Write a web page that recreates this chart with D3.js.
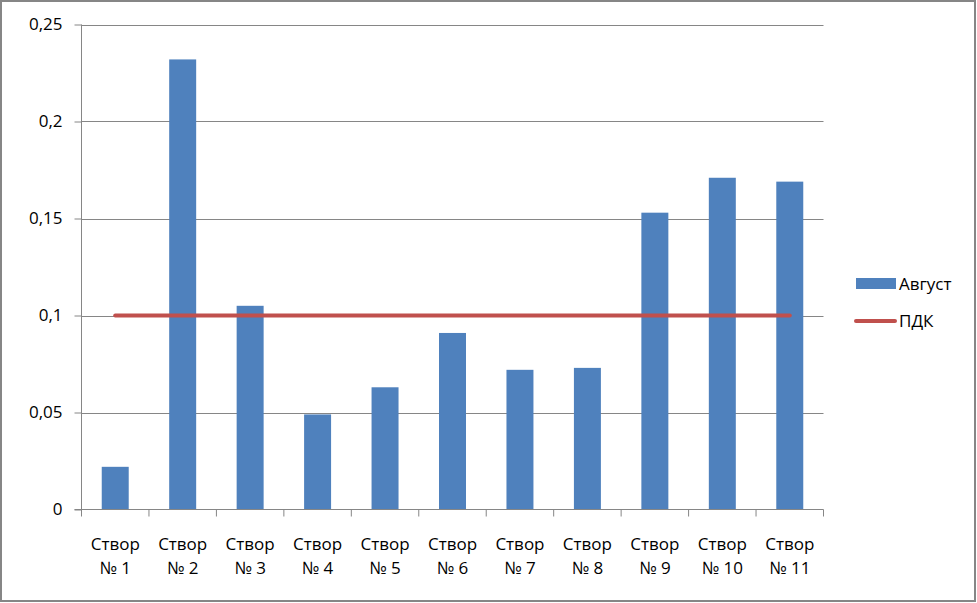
<!DOCTYPE html>
<html><head><meta charset="utf-8">
<script src="https://cdn.jsdelivr.net/npm/d3@7"></script>
<style>html,body{margin:0;padding:0;background:#fff;}svg{display:block;}</style>
</head><body>
<svg id="c" width="977" height="603"></svg>
<script>
const categories = ["Створ|№ 1","Створ|№ 2","Створ|№ 3","Створ|№ 4","Створ|№ 5","Створ|№ 6","Створ|№ 7","Створ|№ 8","Створ|№ 9","Створ|№ 10","Створ|№ 11"];
const august = [0.022, 0.232, 0.105, 0.049, 0.063, 0.091, 0.072, 0.073, 0.153, 0.171, 0.169];
const pdk = [0.1, 0.1, 0.1, 0.1, 0.1, 0.1, 0.1, 0.1, 0.1, 0.1, 0.1];
const yTicks = [0, 0.05, 0.1, 0.15, 0.2, 0.25];
const seriesNames = ["Август", "ПДК"];

const svg = d3.select("#c");
const font = "'Open Sans', 'DejaVu Sans', sans-serif";
const fs = 17;
const L = 81.5, R = 823.5, T = 24.5, B = 509.5;

svg.append("rect").attr("x",1).attr("y",1).attr("width",974).attr("height",600)
  .attr("fill","#fff").attr("stroke","#868686").attr("stroke-width",2);

const x = d3.scaleBand().domain(categories).range([L,R]).paddingInner(0.6).paddingOuter(0.3);
const xb = d3.scaleBand().domain(categories).range([L,R]);
const y = d3.scaleLinear().domain([0,0.25]).range([B,T]);

// gridlines
svg.append("g").selectAll("line").data(yTicks.filter(d=>d>0)).join("line")
  .attr("x1",L).attr("x2",R).attr("y1",d=>Math.round(y(d))+0.5).attr("y2",d=>Math.round(y(d))+0.5)
  .attr("stroke","#868686").attr("stroke-width",1);

// y axis
const yAxis = d3.axisLeft(y).tickValues(yTicks).tickSize(7).tickPadding(12)
  .tickFormat(d=>d3.format("")(d).replace(".",","));
const gy = svg.append("g").attr("transform",`translate(${L},0)`).call(yAxis);
gy.select(".domain").attr("stroke","#868686").attr("d",`M0,${T}V${B}`);
gy.selectAll(".tick line").attr("stroke","#868686");
gy.selectAll(".tick text").attr("font-family",font).attr("font-size",fs).attr("fill","#000");

// bars
svg.append("g").selectAll("rect").data(august).join("rect")
  .attr("x",(d,i)=>x(categories[i])).attr("width",x.bandwidth())
  .attr("y",d=>y(d)).attr("height",d=>B-y(d)).attr("fill","#4F81BD");

// x axis
const gx = svg.append("g").attr("transform",`translate(0,${B})`);
gx.append("line").attr("x1",L-7).attr("x2",R).attr("y1",0).attr("y2",0).attr("stroke","#868686");
const bounds = categories.map(c=>xb(c)).concat([R]);
gx.selectAll("line.t").data(bounds).join("line").attr("class","t")
  .attr("x1",d=>d).attr("x2",d=>d).attr("y1",0).attr("y2",7).attr("stroke","#868686");
const lbl = gx.selectAll("text").data(categories).join("text")
  .attr("text-anchor","middle").attr("font-family",font).attr("font-size",fs).attr("fill","#000")
  .attr("transform",d=>`translate(${xb(d)+xb.bandwidth()/2},0)`);
lbl.append("tspan").attr("x",0).attr("y",40).text(d=>d.split("|")[0]);
lbl.append("tspan").attr("x",0).attr("y",64).text(d=>d.split("|")[1]);

// PDK line
const line = d3.line().x((d,i)=>xb(categories[i])+xb.bandwidth()/2).y(d=>y(d));
svg.append("path").datum(pdk).attr("d",line).attr("fill","none")
  .attr("stroke","#C0504D").attr("stroke-width",4).attr("stroke-linecap","round");

// legend
const lg = svg.append("g");
lg.append("rect").attr("x",856).attr("y",278).attr("width",40).attr("height",11).attr("fill","#4F81BD");
lg.append("line").attr("x1",856).attr("x2",895).attr("y1",321).attr("y2",321)
  .attr("stroke","#C0504D").attr("stroke-width",4).attr("stroke-linecap","round");
lg.selectAll("text").data(seriesNames).join("text")
  .attr("x",899).attr("y",(d,i)=>290+i*37).attr("font-family",font).attr("font-size",fs).attr("fill","#000")
  .text(d=>d);
</script>
</body></html>
